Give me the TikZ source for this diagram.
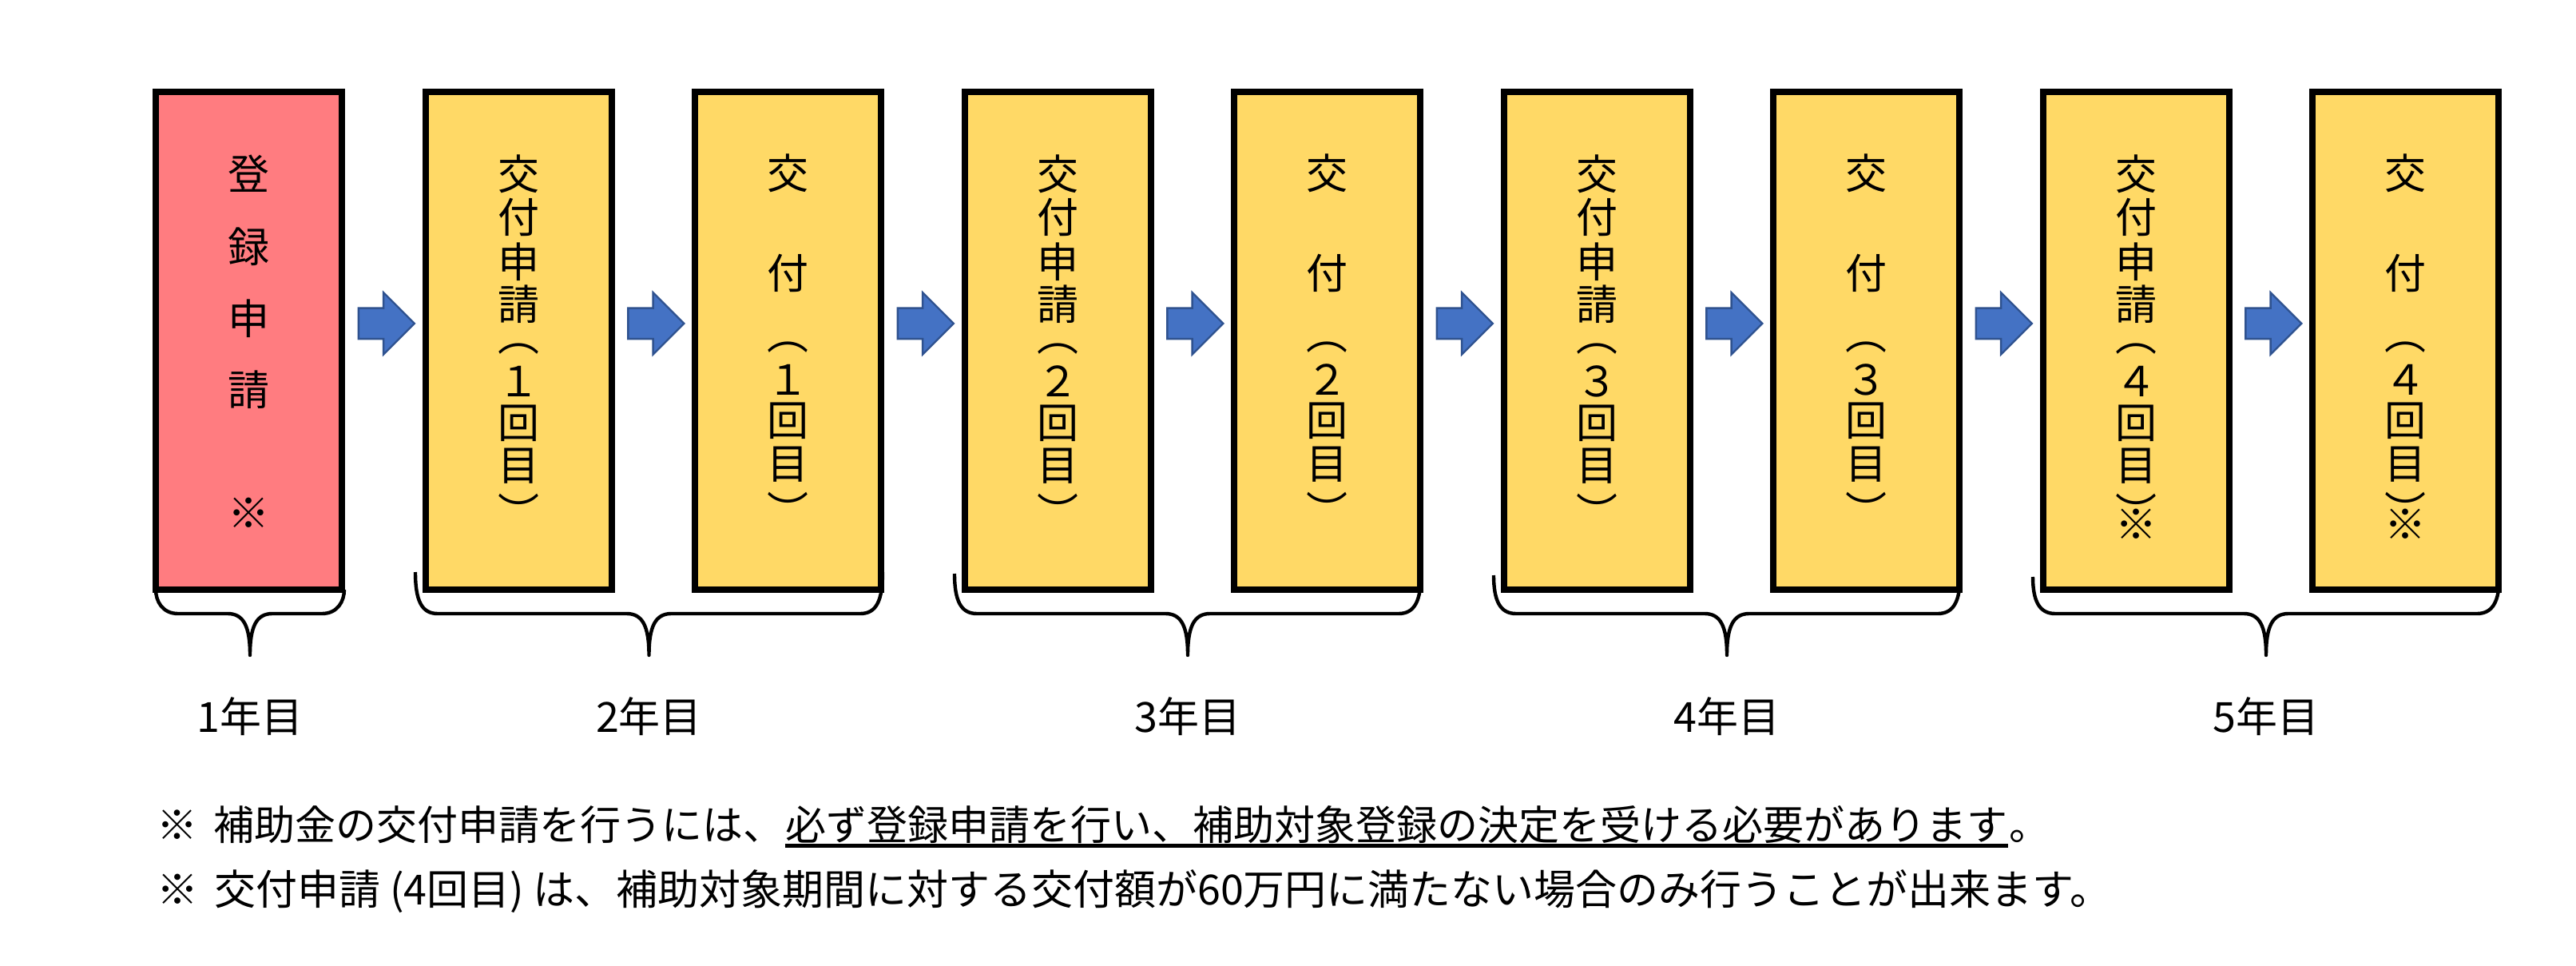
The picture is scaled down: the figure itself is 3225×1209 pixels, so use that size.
\documentclass[tikz,border=0pt]{standalone}
\usepackage{fontspec}
\setmainfont{Noto Sans CJK JP}
\usetikzlibrary{positioning,calc,shapes.arrows}
\definecolor{boxyellow}{HTML}{FFD966}
\definecolor{boxpink}{HTML}{FF7C80}
\definecolor{arrowblue}{HTML}{4472C4}
\definecolor{arrowedge}{HTML}{2F528F}

\tikzset{
  stepbox/.style={draw=black, line width=2pt, minimum width=58.25pt, minimum height=155.75pt, inner sep=0pt},
  vchar/.style={font=\fontsize{13pt}{13pt}\selectfont, inner sep=0pt},
  flowarrow/.style={single arrow, draw=arrowedge, fill=arrowblue, line width=0.6pt,
    single arrow head extend=4.875pt, single arrow tip angle=90,
    minimum height=17.5pt, inner xsep=0pt, inner ysep=4.5pt},
  yearbrace/.style={line width=1.1pt, line join=round},
  yearlabel/.style={font=\fontsize{13pt}{13pt}\selectfont, inner sep=0pt},
  note/.style={font=\fontsize{13pt}{13pt}\selectfont, inner sep=0pt}
}

\begin{document}
\begin{tikzpicture}[x=0.25pt, y=-0.25pt]
\useasboundingbox (0,0) rectangle (3225,1209);

% BOXES
\node[stepbox, fill=boxpink] (b1) at (311.5,426.5) {};
\foreach \i in {2,...,9}
  \node[stepbox, fill=boxyellow] (b\i) at ({311.5+337.5*(\i-1)},426.5) {};

% ARROWS
\foreach \i [evaluate=\i as \j using int(\i+1)] in {1,...,8}
  \node[flowarrow, xshift=-1.5pt, yshift=5.4pt] (a\i) at ($(b\i.east)!0.5!(b\j.west)$) {};

% TEXT : 登録申請
\foreach \ch/\yy [count=\k] in {登/217, 録/309, 申/399, 請/488, ※/642}
  \node[vchar] (t1-\k) at (b1.center |- 0,\yy) {\ch};

% TEXT : 交付申請
\foreach \i/\n in {2/１, 4/２, 6/３, 8/４} {
  \foreach \ch/\yy [count=\k] in {交/218, 付/272, 申/328, 請/381, ︵/437, \n/477, 回/530, 目/583, ︶/640}
    \node[vchar] (t\i-\k) at (b\i.center |- 0,\yy) {\ch};
}

% TEXT : 交付
\foreach \i/\n in {3/１, 5/２, 7/３, 9/４} {
  \foreach \ch/\yy [count=\k] in {交/217, 付/342, ︵/435, \n/475, 回/527, 目/581, ︶/638}
    \node[vchar] (t\i-\k) at (b\i.center |- 0,\yy) {\ch};
}
\node[vchar] (t8-x) at (b8.center |- 0,656) {※};
\node[vchar] (t9-x) at (b9.center |- 0,656) {※};

% BRACES + YEARS
\foreach \xl/\xr/\yt/\k/\lab in {195/431/738/1/1年目, 520/1105/716/2/2年目, 1195/1779/718/3/3年目, 1870/2454/720/4/4年目, 2545/3129/722/5/5年目} {
  \pgfmathsetmacro\xc{(\xl+\xr)/2}
  \draw[yearbrace] (\xl,\yt) .. controls (\xl,752) and (\xl+8,768) .. (\xl+28,768)
    -- (\xc-28,768) .. controls (\xc-8,768) and (\xc,784) .. (\xc,820)
    .. controls (\xc,784) and (\xc+8,768) .. (\xc+28,768)
    -- (\xr-28,768) .. controls (\xr-8,768) and (\xr,752) .. (\xr,\yt);
  \coordinate (tip\k) at (\xc,820);
  \node[yearlabel, below=13pt of tip\k] (y\k) {\lab};
}

% NOTES
\node[note, font=\fontsize{12.75pt}{13pt}\selectfont, anchor=base west] (n1a) at (196,1051) {※\hspace{5pt}補助金の交付申請を行うには、};
\node[note, font=\fontsize{12.75pt}{13pt}\selectfont, base right=0pt of n1a] (n1b) {必ず登録申請を行い、補助対象登録の決定を受ける必要があります};
\node[note, font=\fontsize{12.75pt}{13pt}\selectfont, base right=0pt of n1b] (n1c) {。};
\draw[line width=1.3pt] ([yshift=-0.5pt]n1b.south west) -- ([yshift=-0.5pt]n1b.south east);
\node[note, anchor=base west] (n2) at (196,1132) {※\hspace{5pt}交付申請\kern2.8pt(4回目)\kern2.8pt は、補助対象期間に対する交付額が60万円に満たない場合のみ行うことが出来ます。};

\end{tikzpicture}
\end{document}
